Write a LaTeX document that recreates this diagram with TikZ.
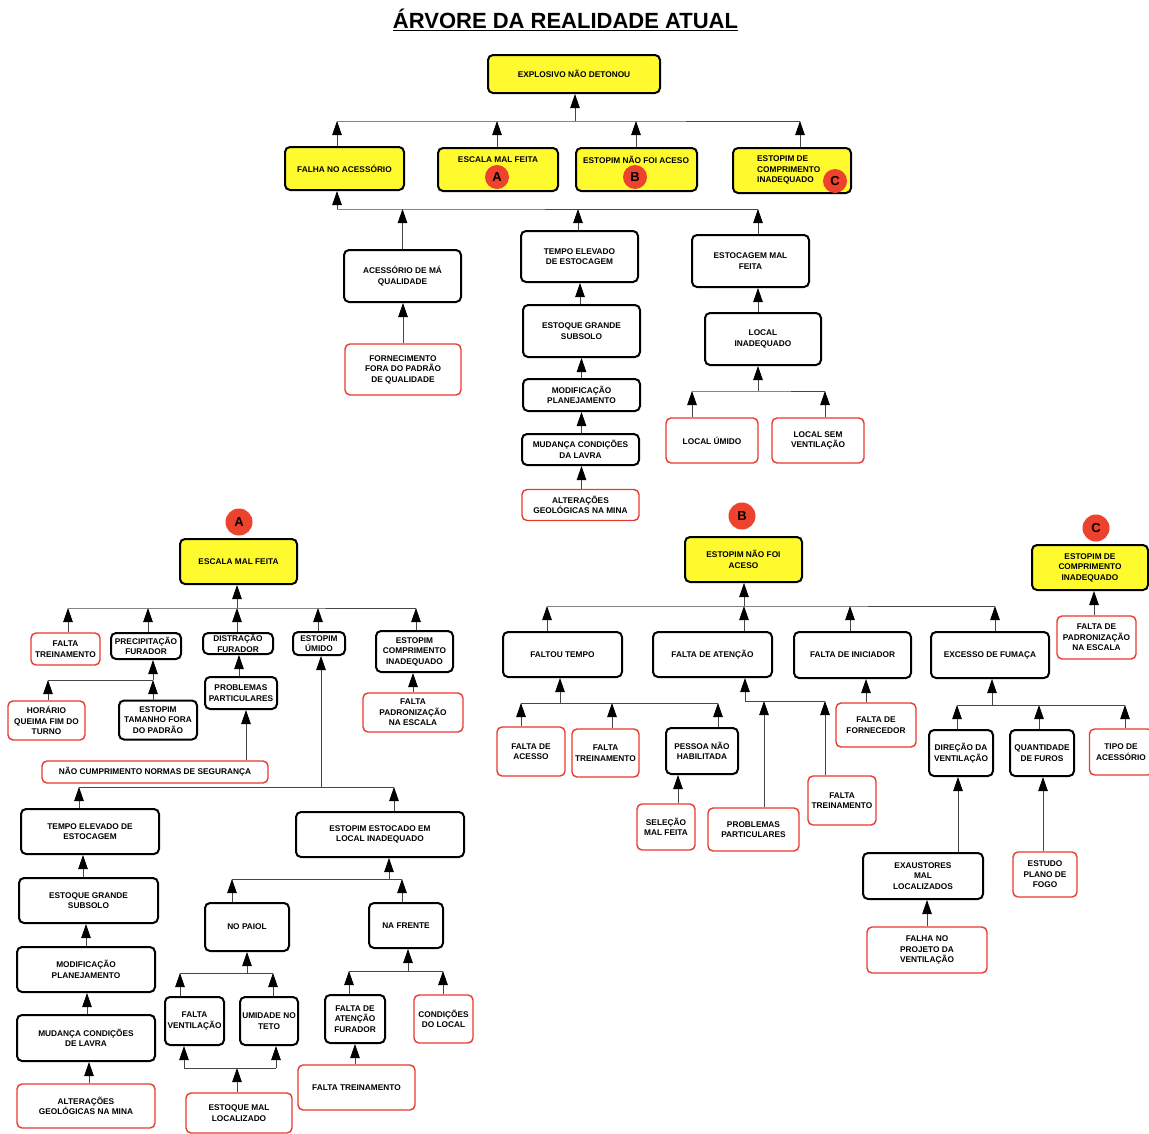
\documentclass[tikz,border=0pt]{standalone}
\usepackage{fontspec}
\setmainfont{Liberation Sans}
\usetikzlibrary{arrows.meta}
\definecolor{redc}{RGB}{232,58,46}
\definecolor{yel}{RGB}{255,250,45}
\definecolor{circc}{RGB}{236,66,46}
\definecolor{linec}{RGB}{70,70,70}
\newcommand\boxfont{\bfseries\fontsize{8.3}{10.5}\selectfont}
\newcommand\uparr[3]{\draw[arr] ([xshift=#2pt]#1.north) -- ([xshift=#2pt]#1.north |- #3);}
\newcommand\intonode[2]{\draw[arr] (#1) -- (#1 |- #2.south);}
\newcommand\busln[5]{\draw[ln] ([xshift=#3pt]#2.north |- #1) -- (#1) -- ([xshift=#5pt]#4.north |- #1);}
\tikzset{
  bbox/.style={draw=black, line width=2pt, rounded corners=5pt, align=center, inner sep=0.5pt, font=\boxfont},
  rbox/.style={bbox, draw=redc, line width=1.4pt},
  ybox/.style={bbox, fill=yel},
  txt/.style={inner sep=0pt, align=center, font=\boxfont},
  circ/.style={circle, fill=circc, minimum size=24pt, inner sep=0pt, font=\bfseries\fontsize{13}{13}\selectfont},
  circtwo/.style={circ, minimum size=27pt},
  ln/.style={draw=linec, line width=0.8pt},
  arr/.style={ln, -{Triangle[length=14pt,width=9.5pt,color=black,fill=black]}},
}
\begin{document}
\begin{tikzpicture}[x=1pt,y=-1pt]
\fill[white] (0,0) rectangle (1149,1133);
\useasboundingbox (0,0) rectangle (1149,1133);

\node[inner sep=0pt, font=\bfseries\fontsize{22}{22}\selectfont] (title) at (565.5,20) {\underline{ÁRVORE DA REALIDADE ATUAL}};

% ---------- top tree ----------
\node[ybox, minimum width=172pt, minimum height=38pt] (t0) at (574,74) {EXPLOSIVO NÃO DETONOU};
\node[ybox, minimum width=119pt, minimum height=43pt] (y1) at (344.5,168.5) {FALHA NO ACESSÓRIO};
\node[ybox, minimum width=120pt, minimum height=43pt] (y2) at (498,169.5) {};
\node[txt] (y2t) at (498,160) {ESCALA MAL FEITA};
\node[circ] (y2c) at (497,177) {A};
\node[ybox, minimum width=121pt, minimum height=43pt] (y3) at (636.5,169.5) {};
\node[txt] (y3t) at (636,160) {ESTOPIM NÃO FOI ACESO};
\node[circ] (y3c) at (635,177) {B};
\node[ybox, minimum width=118pt, minimum height=45pt] (y4) at (792,170.5) {};
\node[txt, align=left, anchor=west] (y4t) at (757,170) {ESTOPIM DE\\COMPRIMENTO\\INADEQUADO};
\node[circ] (y4c) at (835,181) {C};

\coordinate (b1) at (575,121);
\intonode{b1}{t0}
\uparr{y1}{-7.5}{b1} \uparr{y2}{-1}{b1} \uparr{y3}{-0.5}{b1} \uparr{y4}{8}{b1}
\busln{b1}{y1}{-7.5}{y4}{8}

\coordinate (b2) at (337,209);
\intonode{b2}{y1}
\node[bbox, minimum width=117pt, minimum height=52pt] (ac1) at (402.5,276) {ACESSÓRIO DE MÁ\\QUALIDADE};
\node[bbox, minimum width=117pt, minimum height=51pt] (te1) at (579.5,256.5) {TEMPO ELEVADO\\DE ESTOCAGEM};
\node[bbox, minimum width=117pt, minimum height=52pt] (es1) at (750.5,261) {ESTOCAGEM MAL\\FEITA};
\uparr{ac1}{0}{b2} \uparr{te1}{-1.5}{b2} \uparr{es1}{7.5}{b2}
\busln{b2}{ac1}{0}{es1}{7.5}

\node[rbox, minimum width=116pt, minimum height=51pt] (ac2) at (403,369.5) {FORNECIMENTO\\FORA DO PADRÃO\\DE QUALIDADE};
\draw[arr] (ac2.north) -- (ac2.north |- ac1.south);
\node[bbox, minimum width=117pt, minimum height=52pt] (te2) at (581.5,331) {ESTOQUE GRANDE\\SUBSOLO};
\draw[arr] ([xshift=-1.5pt]te2.north) -- ([xshift=-1.5pt]te2.north |- te1.south);
\node[bbox, minimum width=117pt, minimum height=32pt] (te3) at (581.5,395) {MODIFICAÇÃO\\PLANEJAMENTO};
\draw[arr] (te3.north) -- (te3.north |- te2.south);
\node[bbox, minimum width=117pt, minimum height=31pt] (te4) at (580.5,449.5) {MUDANÇA CONDIÇÕES\\DA LAVRA};
\draw[arr] ([xshift=1pt]te4.north) -- ([xshift=1pt]te4.north |- te3.south);
\node[rbox, minimum width=117pt, minimum height=31pt] (te5) at (580.5,505) {ALTERAÇÕES\\GEOLÓGICAS NA MINA};
\draw[arr] ([xshift=1pt]te5.north) -- ([xshift=1pt]te5.north |- te4.south);
\node[bbox, minimum width=116pt, minimum height=52pt] (es2) at (763,339) {LOCAL\\INADEQUADO};
\draw[arr] ([xshift=-5pt]es2.north) -- ([xshift=-5pt]es2.north |- es1.south);
\coordinate (b3) at (758,391);
\intonode{b3}{es2}
\node[rbox, minimum width=92pt, minimum height=45pt] (es3) at (712,440.5) {LOCAL ÚMIDO};
\node[rbox, minimum width=92pt, minimum height=45pt] (es4) at (818,440.5) {LOCAL SEM\\VENTILAÇÃO};
\uparr{es3}{-20}{b3} \uparr{es4}{7}{b3}
\busln{b3}{es3}{-20}{es4}{7}

% ---------- tree A ----------
\node[circtwo] (cA) at (239,522) {A};
\node[ybox, minimum width=117pt, minimum height=45pt] (A0) at (238.5,561.5) {ESCALA MAL FEITA};
\coordinate (bA) at (237,608);
\intonode{bA}{A0}
\node[rbox, minimum width=69pt, minimum height=32pt] (A1) at (65.5,649) {FALTA\\TREINAMENTO};
\node[bbox, minimum width=70pt, minimum height=26pt] (A2) at (146,646) {PRECIPITAÇÃO\\FURADOR};
\node[bbox, minimum width=70pt, minimum height=21pt] (A3) at (238,643.5) {DISTRAÇÃO\\FURADOR};
\node[bbox, minimum width=52pt, minimum height=23pt] (A4) at (319,643.5) {ESTOPIM\\ÚMIDO};
\node[bbox, minimum width=77pt, minimum height=41pt] (A5) at (414.5,651.5) {ESTOPIM\\COMPRIMENTO\\INADEQUADO};
\uparr{A1}{2.5}{bA} \uparr{A2}{2}{bA} \uparr{A3}{-1}{bA} \uparr{A4}{-1}{bA} \uparr{A5}{1.5}{bA}
\busln{bA}{A1}{2.5}{A5}{1.5}

\coordinate (bA2) at (153,680);
\intonode{bA2}{A2}
\node[rbox, minimum width=77pt, minimum height=39pt] (A6) at (46.5,720.5) {HORÁRIO\\QUEIMA FIM DO\\TURNO};
\node[bbox, minimum width=78pt, minimum height=39pt] (A7) at (158,720) {ESTOPIM\\TAMANHO FORA\\DO PADRÃO};
\uparr{A6}{1.5}{bA2} \uparr{A7}{-5}{bA2}
\busln{bA2}{A6}{1.5}{A7}{-5}
\node[bbox, minimum width=72pt, minimum height=32pt] (A8) at (241,693) {PROBLEMAS\\PARTICULARES};
\draw[arr] ([xshift=-2pt]A8.north) -- ([xshift=-2pt]A8.north |- A3.south);
\node[rbox, minimum width=226pt, minimum height=22pt] (A9) at (155,772) {NÃO CUMPRIMENTO NORMAS DE SEGURANÇA};
\draw[arr] ([xshift=91pt]A9.north) -- ([xshift=91pt]A9.north |- A8.south);
\node[rbox, minimum width=100pt, minimum height=39pt] (A10) at (413,712.5) {FALTA\\PADRONIZAÇÃO\\NA ESCALA};
\draw[arr] (A10.north) -- (A10.north |- A5.south);

\coordinate (bA3) at (321,787);
\intonode{bA3}{A4}
\node[bbox, minimum width=138pt, minimum height=45pt] (A11) at (90,831.5) {TEMPO ELEVADO DE\\ESTOCAGEM};
\node[bbox, minimum width=168pt, minimum height=45pt] (A12) at (380,834.5) {ESTOPIM ESTOCADO EM\\LOCAL INADEQUADO};
\uparr{A11}{-11}{bA3} \uparr{A12}{14}{bA3}
\busln{bA3}{A11}{-11}{A12}{14}
\node[bbox, minimum width=139pt, minimum height=45pt] (A13) at (88.5,900.5) {ESTOQUE GRANDE\\SUBSOLO};
\draw[arr] ([xshift=-5.5pt]A13.north) -- ([xshift=-5.5pt]A13.north |- A11.south);
\node[bbox, minimum width=138pt, minimum height=45pt] (A14) at (86,969.5) {MODIFICAÇÃO\\PLANEJAMENTO};
\draw[arr] (A14.north) -- (A14.north |- A13.south);
\node[bbox, minimum width=138pt, minimum height=46pt] (A15) at (86,1038) {MUDANÇA CONDIÇÕES\\DE LAVRA};
\draw[arr] ([xshift=1pt]A15.north) -- ([xshift=1pt]A15.north |- A14.south);
\node[rbox, minimum width=138pt, minimum height=44pt] (A16) at (86,1106) {ALTERAÇÕES\\GEOLÓGICAS NA MINA};
\draw[arr] ([xshift=3pt]A16.north) -- ([xshift=3pt]A16.north |- A15.south);

\coordinate (bA4) at (389,879);
\intonode{bA4}{A12}
\node[bbox, minimum width=84pt, minimum height=48pt] (A17) at (247,927) {NO PAIOL};
\node[bbox, minimum width=74pt, minimum height=45pt] (A18) at (406,925.5) {NA FRENTE};
\uparr{A17}{-15}{bA4} \uparr{A18}{-4}{bA4}
\busln{bA4}{A17}{-15}{A18}{-4}
\coordinate (bA5) at (247,973);
\intonode{bA5}{A17}
\node[bbox, minimum width=59pt, minimum height=48pt] (A19) at (194.5,1021) {FALTA\\VENTILAÇÃO};
\node[bbox, minimum width=58pt, minimum height=48pt] (A20) at (269,1021) {UMIDADE NO\\TETO};
\uparr{A19}{-14.5}{bA5} \uparr{A20}{4}{bA5}
\busln{bA5}{A19}{-14.5}{A20}{4}
\coordinate (bA6) at (237,1068);
\node[rbox, minimum width=106pt, minimum height=40pt] (A21) at (239,1113) {ESTOQUE MAL\\LOCALIZADO};
\uparr{A21}{-2}{bA6}
\draw[arr] ([xshift=-10.5pt]A19.south |- bA6) -- ([xshift=-10.5pt]A19.south);
\draw[arr] ([xshift=7pt]A20.south |- bA6) -- ([xshift=7pt]A20.south);
\draw[ln] ([xshift=-10.5pt]A19.south |- bA6) -- ([xshift=7pt]A20.south |- bA6);
\coordinate (bA7) at (408,971);
\intonode{bA7}{A18}
\node[bbox, minimum width=60pt, minimum height=48pt] (A22) at (355,1019) {FALTA DE\\ATENÇÃO\\FURADOR};
\node[rbox, minimum width=59pt, minimum height=48pt] (A23) at (443.5,1019) {CONDIÇÕES\\DO LOCAL};
\uparr{A22}{-6}{bA7} \uparr{A23}{-0.5}{bA7}
\busln{bA7}{A22}{-6}{A23}{-0.5}
\node[rbox, minimum width=117pt, minimum height=45pt] (A24) at (356.5,1087.5) {FALTA TREINAMENTO};
\draw[arr] ([xshift=-1.5pt]A24.north) -- ([xshift=-1.5pt]A24.north |- A22.south);

% ---------- tree B ----------
\node[circtwo] (cB) at (742,516) {B};
\node[ybox, minimum width=117pt, minimum height=45pt] (B0) at (743.5,559.5) {ESTOPIM NÃO FOI\\ACESO};
\coordinate (bB) at (744,606);
\intonode{bB}{B0}
\node[bbox, minimum width=119pt, minimum height=45pt] (B1) at (562.5,654.5) {FALTOU TEMPO};
\node[bbox, minimum width=119pt, minimum height=45pt] (B2) at (712.5,654.5) {FALTA DE ATENÇÃO};
\node[bbox, minimum width=117pt, minimum height=46pt] (B3) at (852.5,655) {FALTA DE INICIADOR};
\node[bbox, minimum width=118pt, minimum height=46pt] (B4) at (990,655) {EXCESSO DE FUMAÇA};
\uparr{B1}{-15.5}{bB} \uparr{B2}{31.5}{bB} \uparr{B3}{-2.5}{bB} \uparr{B4}{5}{bB}
\busln{bB}{B1}{-15.5}{B4}{5}

\coordinate (bB1) at (560,703);
\intonode{bB1}{B1}
\node[rbox, minimum width=68pt, minimum height=49pt] (B5) at (531,751.5) {FALTA DE\\ACESSO};
\node[rbox, minimum width=67pt, minimum height=48pt] (B6) at (605.5,753) {FALTA\\TREINAMENTO};
\node[bbox, minimum width=72pt, minimum height=46pt] (B7) at (702,751) {PESSOA NÃO\\HABILITADA};
\uparr{B5}{-10}{bB1} \uparr{B6}{6.5}{bB1} \uparr{B7}{16}{bB1}
\busln{bB1}{B5}{-10}{B7}{16}
\node[rbox, minimum width=58pt, minimum height=46pt] (B8) at (666,827) {SELEÇÃO\\MAL FEITA};
\draw[arr] ([xshift=12pt]B8.north) -- ([xshift=12pt]B8.north |- B7.south);

\coordinate (bB2) at (745,701);
\intonode{bB2}{B2}
\node[rbox, minimum width=91pt, minimum height=43pt] (B9) at (753.5,829.5) {PROBLEMAS\\PARTICULARES};
\node[rbox, minimum width=68pt, minimum height=49pt] (B10) at (842,800.5) {FALTA\\TREINAMENTO};
\uparr{B9}{10.5}{bB2} \uparr{B10}{-17}{bB2}
\busln{bB2}{B9}{10.5}{B10}{-17}
\node[rbox, minimum width=80pt, minimum height=44pt] (B11) at (876,725) {FALTA DE\\FORNECEDOR};
\draw[arr] ([xshift=-10pt]B11.north) -- ([xshift=-10pt]B11.north |- B3.south);

\coordinate (bB3) at (992,705);
\intonode{bB3}{B4}
\node[bbox, minimum width=64pt, minimum height=46pt] (B12) at (961,753) {DIREÇÃO DA\\VENTILAÇÃO};
\node[bbox, minimum width=64pt, minimum height=46pt] (B13) at (1042,753) {QUANTIDADE\\DE FUROS};
\node[rbox, minimum width=63pt, minimum height=46pt] (B14) at (1121,752) {TIPO DE\\ACESSÓRIO};
\uparr{B12}{-4}{bB3} \uparr{B13}{-3}{bB3} \uparr{B14}{4}{bB3}
\busln{bB3}{B12}{-4}{B14}{4}
\node[bbox, minimum width=120pt, minimum height=46pt] (B15) at (923,876) {EXAUSTORES\\MAL\\LOCALIZADOS};
\draw[arr] ([xshift=35pt]B15.north) -- ([xshift=35pt]B15.north |- B12.south);
\node[rbox, minimum width=64pt, minimum height=45pt] (B16) at (1045,874.5) {ESTUDO\\PLANO DE\\FOGO};
\draw[arr] ([xshift=-2pt]B16.north) -- ([xshift=-2pt]B16.north |- B13.south);
\node[rbox, minimum width=120pt, minimum height=46pt] (B17) at (927,950) {FALHA NO\\PROJETO DA\\VENTILAÇÃO};
\draw[arr] (B17.north) -- (B17.north |- B15.south);

% ---------- tree C ----------
\node[circtwo] (cC) at (1096,528) {C};
\node[ybox, minimum width=116pt, minimum height=45pt] (C0) at (1090,567.5) {ESTOPIM DE\\COMPRIMENTO\\INADEQUADO};
\node[rbox, minimum width=79pt, minimum height=43pt] (C1) at (1096.5,637.5) {FALTA DE\\PADRONIZAÇÃO\\NA ESCALA};
\draw[arr] ([xshift=-2.5pt]C1.north) -- ([xshift=-2.5pt]C1.north |- C0.south);
\end{tikzpicture}
\end{document}
